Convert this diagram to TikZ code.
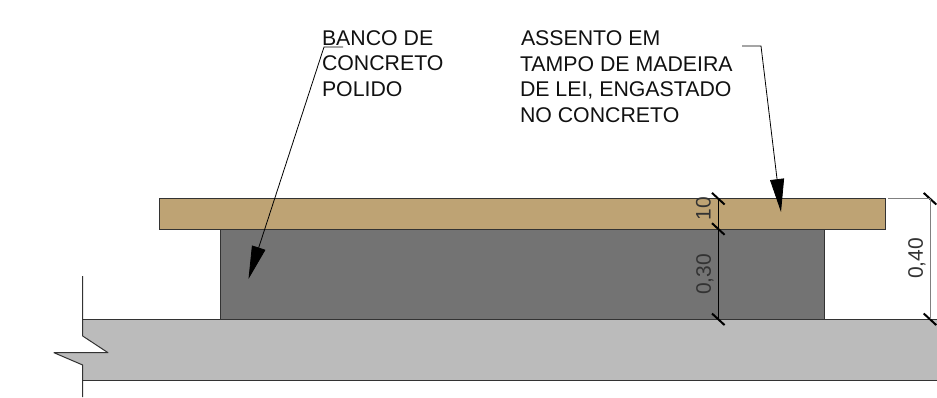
\documentclass[tikz,border=0pt]{standalone}
\usepackage{fontspec}
\setmainfont{Liberation Sans}
\usetikzlibrary{arrows.meta}
\definecolor{woodc}{HTML}{BEA374}
\definecolor{concc}{HTML}{737373}
\definecolor{floorc}{HTML}{BBBBBB}
\definecolor{edgec}{HTML}{333333}
\definecolor{textc}{HTML}{111111}
\tikzset{
  x=1pt,y=-1pt,
  solidedge/.style={draw=edgec,line width=1pt},
  thinline/.style={draw=edgec,line width=1pt,line join=round},
  leader/.style={draw=black,line width=.8pt,-{Triangle[length=33pt,width=14pt,fill=black]}},
  dimline/.style={draw=black,line width=1pt},
  dimtick/.style={draw=black,line width=2pt},
  extline/.style={draw=gray,line width=1pt},
  label/.style={anchor=base west,inner sep=0pt,outer sep=0pt,font=\fontsize{21.3}{24}\selectfont,text=textc},
  dimtext/.style={inner sep=0pt,outer sep=0pt,rotate=90,font=\fontsize{21}{24}\selectfont,text=edgec}
}
\begin{document}
\begin{tikzpicture}
\useasboundingbox (0,0) rectangle (937,397);
% floor slab
\fill[floorc] (82.7,319.3) -- (937,319.3) -- (937,380) -- (82.7,380) -- (82.7,365) -- (54,352.7) -- (108,352.7) -- (82.7,336) -- cycle;
\draw[thinline] (82.7,276) -- (82.7,336) -- (108,352.7) -- (54,352.7) -- (82.7,365) -- (82.7,397);
\draw[solidedge] (82.7,319.3) -- (937,319.3);
\draw[solidedge] (82.7,380) -- (937,380);
% concrete bench
\path[fill=concc,solidedge] (220,229) rectangle (824.7,319.3);
% wood seat
\path[fill=woodc,solidedge] (159,198.7) rectangle (885,229);
% named points
\coordinate (d0) at (718.3,198.7);
\coordinate (d1) at (718.3,229);
\coordinate (d2) at (718.3,319.3);
\coordinate (e0) at (930,198.7);
\coordinate (e1) at (930,319.3);
\coordinate (l1a) at (343,47);
\coordinate (l1b) at (324,47);
\coordinate (l1c) at (248.5,279);
\coordinate (l2a) at (742,46);
\coordinate (l2b) at (761,46);
\coordinate (l2c) at (781,212);
% dimensions
\draw[dimline] (d0) -- (d1);
\draw[dimline] (d1) -- (d2);
\foreach \p in {d0,d1,d2,e0,e1}{
  \draw[dimtick] ([shift={(-6.3,-5.8)}]\p) -- ([shift={(6.3,5.8)}]\p);
}
\draw[extline] (888,198.7) -- (e0);
\draw[dimline,draw=gray] (e0) -- (e1);
\node[dimtext] (t10) at (703.5,208.5) {10};
\node[dimtext] (t30) at (705,274.5) {0,30};
\node[dimtext] (t40) at (917,258.5) {0,40};
% leaders
\draw[leader] (l1a) -- (l1b) -- (l1c);
\draw[leader] (l2a) -- (l2b) -- (l2c);
% labels
\node[label] (a1) at (322,45) {BANCO DE};
\node[label] (a2) at (322,70) {CONCRETO};
\node[label] (a3) at (322,96) {POLIDO};
\node[label] (b1) at (521,45) {ASSENTO EM};
\node[label] (b2) at (520,71) {TAMPO DE MADEIRA};
\node[label] (b3) at (520,96) {DE LEI, ENGASTADO};
\node[label] (b4) at (520,122) {NO CONCRETO};
\end{tikzpicture}
\end{document}
